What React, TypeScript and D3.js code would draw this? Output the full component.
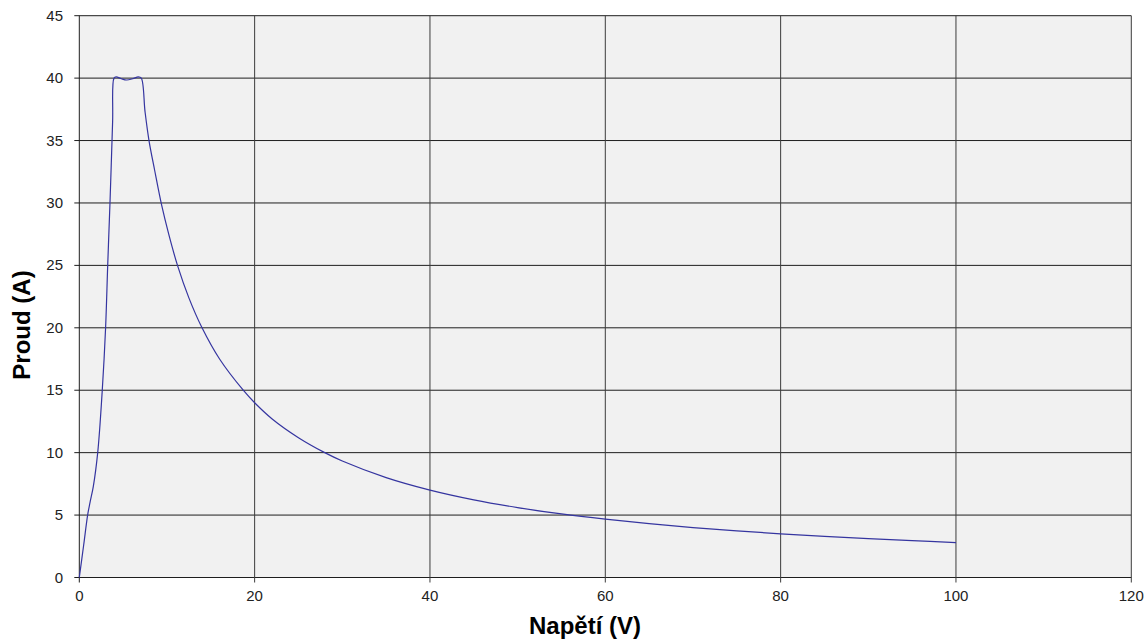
import React, { useEffect, useRef } from "react";
import * as d3 from "d3";

// napětí (V) a proud (A)
const voltage = [
  0, 0.5, 0.95, 1.22, 1.6, 2.1, 2.62, 3.0, 3.24, 3.5, 3.8, 3.96, 4.2, 4.8, 5.4,
  6.1, 6.73, 7.07, 7.5, 7.95, 8.6, 9.4, 10.2, 11.2, 12.5, 14.0, 16.0, 18.7, 20,
  22, 25, 28, 30, 35, 40, 45, 50, 55, 60, 65, 70, 75, 80, 85, 90, 95, 100,
];
const current = [
  0, 2.6, 5.0, 6.0, 7.3, 10.0, 15.0, 20.0, 25.0, 30.0, 36.5, 40.0, 40.1, 39.95,
  39.85, 39.95, 40.1, 40.0, 37.3, 35.0, 32.6, 29.8, 27.5, 25.0, 22.4, 20.0,
  17.5, 15.0, 14.0, 12.7, 11.2, 10.0, 9.33, 8.0, 7.0, 6.22, 5.6, 5.09, 4.67,
  4.31, 4.0, 3.73, 3.5, 3.29, 3.11, 2.95, 2.8,
];
const xTicks = [0, 20, 40, 60, 80, 100, 120];
const yTicks = [0, 5, 10, 15, 20, 25, 30, 35, 40, 45];

const W = 1148;
const H = 643;

export default function App() {
  const svgRef = useRef<SVGSVGElement>(null);

  useEffect(() => {
    if (!svgRef.current) return;
    const svg = d3.select(svgRef.current);
    svg.selectAll("*").remove();

    const x = d3.scaleLinear().domain([0, 120]).range([79.3, 1131.3]);
    const y = d3.scaleLinear().domain([0, 45]).range([577.5, 15.7]);

    svg
      .append("rect")
      .attr("x", x(0))
      .attr("y", y(45))
      .attr("width", x(120) - x(0))
      .attr("height", y(0) - y(45))
      .attr("fill", "#f1f1f1");

    // mřížka
    svg
      .selectAll("line.hgrid")
      .data(yTicks)
      .join("line")
      .attr("class", "hgrid")
      .attr("x1", x(0) - 5)
      .attr("x2", x(120))
      .attr("y1", (d) => y(d))
      .attr("y2", (d) => y(d))
      .attr("stroke", "#1e1e1e")
      .attr("stroke-width", 1);

    svg
      .selectAll("line.vgrid")
      .data(xTicks)
      .join("line")
      .attr("class", "vgrid")
      .attr("x1", (d) => x(d))
      .attr("x2", (d) => x(d))
      .attr("y1", y(45))
      .attr("y2", y(0) + 5)
      .attr("stroke", (d) => (d === 0 ? "#1e1e1e" : "#3c3c3c"))
      .attr("stroke-width", 1);

    const pts = voltage.map((v, i) => [v, current[i]] as [number, number]);
    const line = d3
      .line<[number, number]>()
      .x((d) => x(d[0]))
      .y((d) => y(d[1]))
      .curve(d3.curveCatmullRom.alpha(0.5));

    svg
      .append("path")
      .datum(pts)
      .attr("d", line)
      .attr("fill", "none")
      .attr("stroke", "#3535a0")
      .attr("stroke-width", 1.2);

    const font = "Liberation Sans, Arial, sans-serif";

    svg
      .selectAll("text.ytick")
      .data(yTicks)
      .join("text")
      .attr("class", "ytick")
      .attr("x", 63)
      .attr("y", (d) => y(d) + 5)
      .attr("text-anchor", "end")
      .attr("font-family", font)
      .attr("font-size", 15)
      .attr("fill", "#222")
      .text((d) => d);

    svg
      .selectAll("text.xtick")
      .data(xTicks)
      .join("text")
      .attr("class", "xtick")
      .attr("x", (d) => x(d))
      .attr("y", 601)
      .attr("text-anchor", "middle")
      .attr("font-family", font)
      .attr("font-size", 15)
      .attr("fill", "#222")
      .text((d) => d);

    svg
      .append("text")
      .attr("x", 585)
      .attr("y", 634)
      .attr("text-anchor", "middle")
      .attr("font-family", font)
      .attr("font-size", 24)
      .attr("font-weight", "bold")
      .attr("fill", "#000")
      .text("Napětí (V)");

    svg
      .append("text")
      .attr("transform", "translate(30,325) rotate(-90)")
      .attr("text-anchor", "middle")
      .attr("font-family", font)
      .attr("font-size", 24)
      .attr("font-weight", "bold")
      .attr("fill", "#000")
      .text("Proud (A)");
  }, []);

  return (
    <svg
      ref={svgRef}
      width={W}
      height={H}
      style={{ position: "absolute", left: 0, top: 0, background: "#fff" }}
    />
  );
}
